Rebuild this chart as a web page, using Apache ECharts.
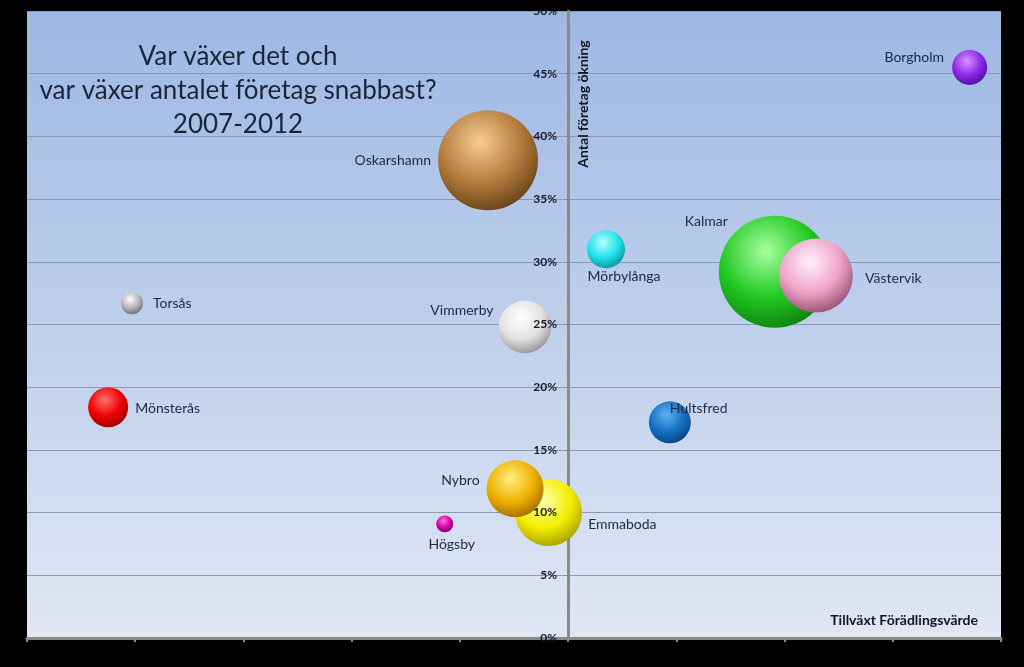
<!DOCTYPE html>
<html>
<head>
<meta charset="utf-8">
<script src="https://cdn.jsdelivr.net/npm/echarts@6/dist/echarts.min.js"></script>
<style>
html,body{margin:0;padding:0;background:#000;}
#c{width:1024px;height:667px;}
</style>
</head>
<body>
<div id="c"></div>
<script>
// Data
const names = ['Kalmar','Västervik','Oskarshamn','Emmaboda','Nybro','Vimmerby','Hultsfred','Mönsterås','Mörbylånga','Borgholm','Torsås','Högsby'];
const growthValue = [0.191, 0.229, -0.074, -0.018, -0.049, -0.040, 0.094, -0.425, 0.035, 0.371, -0.403, -0.114]; // Tillväxt Förädlingsvärde
const growthFirms = [0.292, 0.289, 0.381, 0.100, 0.119, 0.248, 0.172, 0.184, 0.310, 0.455, 0.267, 0.091]; // Antal företag ökning
const bubbleSize = [3136, 1369, 2500, 1122, 812, 690, 441, 400, 361, 306, 121, 72];
const yTicks = [0, 0.05, 0.10, 0.15, 0.20, 0.25, 0.30, 0.35, 0.40, 0.45, 0.50];

const palette = {
  'Kalmar':     ['#a8ffa0','#22c822','#0b7a0b'],
  'Västervik':  ['#fff2fa','#f0a2c8','#8a4468'],
  'Oskarshamn': ['#f6cc94','#b37b3c','#5e3a12'],
  'Emmaboda':   ['#ffffb0','#f4ee00','#9a9400'],
  'Nybro':      ['#fff080','#efb000','#9a6400'],
  'Vimmerby':   ['#ffffff','#e2e2e2','#8a8a8a'],
  'Hultsfred':  ['#5eb0f4','#1570c2','#0a3c78'],
  'Mönsterås':  ['#ff7070','#ee0000','#8e0000'],
  'Mörbylånga': ['#b8ffff','#1ee2ea','#0a8890'],
  'Borgholm':   ['#dc90ff','#8a28e6','#4c0c98'],
  'Torsås':     ['#ffffff','#b4b4b4','#666666'],
  'Högsby':     ['#ff70dc','#d000a4','#70005a']
};
const labelPos = {
  'Kalmar':     ['left', [14,-50]],
  'Västervik':  ['right', [7,3]],
  'Oskarshamn': ['left', [-2,0]],
  'Emmaboda':   ['right', [1,12]],
  'Nybro':      ['left', [-2,-8]],
  'Vimmerby':   ['left', [0,-17]],
  'Hultsfred':  ['right', [-26,-14]],
  'Mönsterås':  ['right', [2,1]],
  'Mörbylånga': ['bottom', [18,-4]],
  'Borgholm':   ['left', [-3,-10]],
  'Torsås':     ['right', [5,0]],
  'Högsby':     ['bottom', [7,0]]
};

const maxSize = Math.max.apply(null, bubbleSize);
const data = names.map((n, i) => {
  const c = palette[n];
  return {
    name: n,
    value: [growthValue[i], growthFirms[i], bubbleSize[i]],
    itemStyle: {
      opacity: 1,
      color: {
        type: 'radial', x: 0.42, y: 0.32, r: 0.75,
        colorStops: [
          {offset: 0, color: c[0]},
          {offset: 0.55, color: c[1]},
          {offset: 1, color: c[2]}
        ]
      }
    },
    label: {position: labelPos[n][0], offset: labelPos[n][1]}
  };
});

const chart = echarts.init(document.getElementById('c'));
chart.setOption({
  backgroundColor: '#000',
  animation: false,
  grid: {
    left: 27, right: 23, top: 11, bottom: 29, show: true, borderWidth: 0,
    outerBoundsMode: 'none', containLabel: false,
    backgroundColor: {type: 'linear', x: 0, y: 0, x2: 0, y2: 1,
      colorStops: [{offset: 0, color: '#9db8e4'}, {offset: 1, color: '#e0e7f3'}]}
  },
  xAxis: {
    type: 'value', min: -0.5, max: 0.4, interval: 0.1,
    axisLine: {show: true, onZero: false, lineStyle: {color: '#8a8a8a', width: 3}},
    axisTick: {show: true, length: 4, lineStyle: {color: '#8a8a8a', width: 2}},
    axisLabel: {show: false},
    splitLine: {show: false}
  },
  yAxis: [{
    type: 'value', min: 0, max: 0.5, interval: 0.05,
    axisLine: {show: true, onZero: true, lineStyle: {color: '#8a8a8a', width: 3}},
    axisTick: {show: true, length: 3, lineStyle: {color: '#8a8a8a'}},
    axisLabel: {show: false},
    splitLine: {show: true, lineStyle: {color: '#8d99ae', width: 1}}
  }, {
    type: 'value', min: 0, max: 0.5, interval: 0.05, z: 10,
    position: 'left', offset: -541,
    axisLine: {show: false, onZero: false},
    axisTick: {show: false},
    splitLine: {show: false},
    axisLabel: {
      show: true, margin: 11,
      fontFamily: 'Lato', fontSize: 12, fontWeight: 'bold', color: '#141a2c',
      formatter: v => Math.round(v * 100) + '%'
    }
  }],
  series: [{
    type: 'scatter',
    data: data,
    symbolSize: v => 112 * Math.sqrt(v[2] / maxSize),
    itemStyle: {opacity: 1},
    label: {
      show: true, formatter: p => p.name, distance: 5,
      fontFamily: 'Lato', fontSize: 14, color: '#1c2846'
    },
    emphasis: {disabled: true}
  }],
  graphic: [
    {type: 'text', x: 238, y: 91, z: 20,
     style: {text: 'Var växer det och\nvar växer antalet företag snabbast?\n2007-2012', fontFamily: 'Lato', fontSize: 26, lineHeight: 34, fill: '#1c2438', textAlign: 'center', textVerticalAlign: 'middle'}},
    {type: 'text', x: 583, y: 104, rotation: Math.PI / 2, z: 20,
     style: {text: 'Antal företag ökning', fontFamily: 'Lato', fontSize: 14, fontWeight: 'bold', fill: '#10141e', textAlign: 'center', textVerticalAlign: 'middle'}},
    {type: 'text', x: 978, y: 620, z: 20,
     style: {text: 'Tillväxt Förädlingsvärde', fontFamily: 'Lato', fontSize: 14, fontWeight: 'bold', fill: '#10141e', textAlign: 'right', textVerticalAlign: 'middle'}},
    {type: 'rect', shape: {x: 0, y: 0, width: 1024, height: 10}, style: {fill: '#000'}, z: 100}
  ]
});
</script>
</body>
</html>
